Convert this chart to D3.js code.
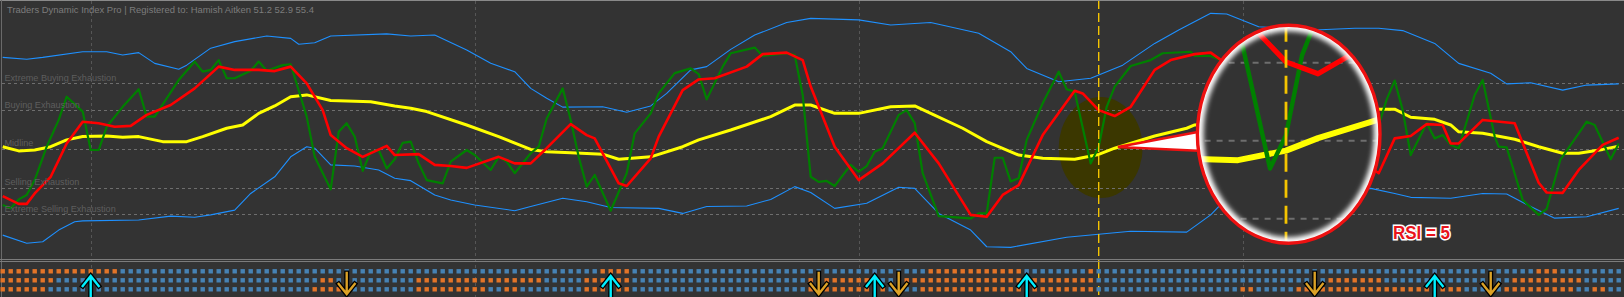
<!DOCTYPE html>
<html lang="en">
<head>
<meta charset="UTF-8">
<title>Traders Dynamic Index Pro</title>
<script src="https://cdn.jsdelivr.net/npm/d3@7"></script>
<style>
  html, body { margin: 0; padding: 0; background: #333; }
  svg { display: block; }
  .level { stroke: #6e6e6e; stroke-width: 1px; stroke-dasharray: 3,3; }
  .vgrid { stroke: #565656; stroke-width: 1px; stroke-dasharray: 3,3; }
  .lbl { fill: #5e5e5e; font: 9.1px "Liberation Sans", Arial, sans-serif; }
  .title { fill: #7c7c7c; font: 9px "Liberation Sans", Arial, sans-serif; }
  .rsi { fill: #e8141b; stroke: #fff; stroke-width: 3px; paint-order: stroke;
         font: bold 18px "Liberation Sans", Arial, sans-serif; }
</style>
</head>
<body>
<svg id="chart" width="1624" height="297"></svg>
<script>

// ---- data (bar index, value) ----
var titleText = "Traders Dynamic Index Pro | Registered to: Hamish Aitken 51.2 52.9 55.4";
var levels = [72, 63, 50, 37, 28];
var levelNames = ["Extreme Buying Exhaustion", "Buying Exhaustion", "Midline", "Selling Exhaustion", "Extreme Selling Exhaustion"];
var gridBars = [11, 59, 107, 155];
var markerBar = 137;

var upperBand = [[0,80.7],[3,80.1],[5,80.7],[10,82.6],[13,82.6],[15,81.5],[17,82.3],[19,78.7],[22,76.7],[23,78.1],[26,83.8],[29,86],[33,87.9],[36,87.1],[37,85.1],[39,85.6],[41,87.9],[48,88.6],[51,87.9],[54,88.2],[58,83.2],[61,78.7],[64,75.9],[66,70.3],[68,67],[70,64],[75,64.1],[78,62.3],[81,64.4],[83,68.6],[86,76.5],[88,77.6],[91,83.4],[94,88.2],[98,92.4],[101,93.8],[107,93.3],[111,91.6],[116,92.4],[122,88.8],[126,82.6],[128,77],[132,72.5],[136,73.7],[140,78.1],[144,85.4],[147,89.9],[151,95.5],[153,95.3],[157,91],[164,89.9],[169,90.5],[172,90.5],[175,89.7],[179,85.4],[182,78.7],[186,75.4],[188,71.8],[191,72.2],[195,69.7],[198,71.4],[202,71.8]];

var lowerBand = [[0,21],[3,18.3],[5,18.8],[7,22.7],[9,25.5],[10,25.8],[17,26.1],[21,27.4],[24,27],[26,27.8],[29,29.4],[31,35],[34,40.6],[36,47.3],[38,50.7],[39,50.2],[41,44.6],[44,44.2],[47,42.9],[49,40.1],[51,39.3],[54,34.5],[56,32.8],[59,31.1],[64,29.2],[66,30.6],[70,33.4],[73,32.2],[76,30.3],[82,30],[85,28.3],[88,30.6],[93,30.8],[96,33],[99,37.3],[101,35.3],[104,30],[108,31.7],[112,37.1],[114,36.7],[117,28.3],[121,22.7],[123,17.1],[126,16.9],[133,20.3],[141,22.3],[148,22],[151,27.8],[152,30.6],[171,36.7],[174,35],[176,33.7],[181,33.4],[185,35],[188,34.8],[191,30.6],[194,26.7],[198,27.2],[202,30]];

var marketBase = [[0,50.7],[2,49.3],[4,49.6],[6,50.7],[8,53],[10,54.1],[13,54.3],[15,53.9],[17,54.1],[20,52.4],[23,52.4],[25,54.1],[28,56.9],[30,58],[32,61.9],[34,64.4],[36,67.5],[38,68.1],[41,66.2],[46,65.8],[49,64.4],[51,63.6],[53,62.5],[58,58],[62,54.1],[66,49.8],[68,49],[71,48.7],[75,48.2],[77,46.5],[81,47.3],[85,50.7],[87,53],[91,56.3],[96,60.8],[99,64.7],[101,64.7],[104,61.9],[107,61.9],[111,64.1],[114,64.4],[116,61.9],[120,56.9],[123,52.4],[127,47.9],[130,46.8],[134,46.5],[137,48.1],[139,50.2],[144,54.3],[148,56.9],[149,58],[172,63.3],[174,63.3],[176,60.6],[179,59.9],[181,58],[182,55.7],[185,55.2],[189,53.2],[192,50.7],[195,48.5],[197,48.5],[200,49.8],[202,50.9]];

var tradeSignal = [[0,34.1],[2,31.5],[3,31.5],[4,35],[6,40.6],[8,51.8],[10,59.1],[12,58.6],[14,57.4],[16,57.7],[18,61.4],[21,64.7],[24,70.3],[27,77.6],[29,76.5],[32,76.5],[34,76.1],[36,77.6],[38,72],[40,63],[41,54.6],[43,50.2],[45,47.3],[48,51],[49,47.9],[52,48.2],[54,44.6],[56,44.2],[58,43.6],[62,47.3],[64,45.1],[66,45.1],[68,50.2],[71,58.3],[73,54.6],[74,53.5],[77,38.4],[78,37.5],[81,46.8],[82,54.1],[85,69.7],[87,73.3],[89,73.7],[93,77.6],[95,81.8],[98,82.3],[100,79.8],[101,70.9],[104,50.7],[107,39.5],[110,45.1],[114,55.4],[117,45.1],[121,27.8],[123,27.2],[125,34.5],[127,37.8],[130,54.6],[134,69.5],[135,68.6],[137,63],[139,61],[141,64.1],[144,76.5],[146,79.8],[149,81.8],[151,82.3],[172,41.8],[174,53.5],[176,54.3],[178,58.3],[180,58],[181,51.8],[182,51.8],[185,59.7],[189,58.6],[192,38.6],[193,35.3],[195,35.2],[197,42.9],[200,51.3],[202,53.7]];

var rsiPrice = [[0,31.1],[1,30],[2,33],[3,34.5],[4,39.5],[5.5,50.7],[7,59.7],[8,67.5],[10,62.5],[11,49.6],[12,49.6],[13,57.4],[15,64.1],[17,70],[18,60.8],[19,60.8],[22,73.1],[24,79.3],[25,75.9],[26,76.5],[27,79.8],[28,73.7],[29,73.7],[31,76.2],[32,79.3],[33,76.2],[35,78.1],[36,78.4],[38,60.8],[39,47.3],[41,36.4],[42,55.7],[43,58.6],[44,54.1],[45,42.6],[46,49],[47,49.6],[48,43.4],[49,46.5],[50,52],[51,52.4],[52,45.1],[53,39.5],[55,38.4],[56,45.7],[58,49.6],[59,47.9],[61,42.9],[62,47.3],[63,45.7],[64,41.8],[66,48.5],[67,50.7],[68,60.2],[70,70.3],[71,59.7],[72,47.3],[73,37.3],[74,41.2],[76,29.2],[78,41.8],[79,55.2],[81,61.9],[82,68.6],[84,75.4],[86,77],[87,75.1],[88,66.6],[90,77.6],[91,82.1],[94,84],[95,81.2],[98,82.1],[99,81.5],[100,68.1],[101,40.6],[102,38.9],[103,39.2],[104,37.5],[106,44.6],[107,42.3],[108,44.2],[109,49],[110,50.2],[112,61.4],[113,63],[114,58.6],[115,41.8],[117,27.4],[121,26.6],[122,28.3],[123,28.3],[124,47],[125,47],[126,39],[127,40.1],[128,53],[130,65.3],[132,75.9],[133,70],[134,69.2],[136,45.1],[137,50.7],[138,64.1],[139,70.9],[141,77.8],[143.5,79.8],[145,82.1],[148.5,82.6],[149,81.2],[151,81.2],[172,58],[173,66.6],[174,72.9],[175,63],[176,47.9],[178,58.6],[179,53.5],[180,54.6],[181,51.3],[182,50.2],[184,68.1],[185,73.1],[186.5,54.1],[187,50.7],[188,50.5],[190,32.8],[192,27.8],[193,29.8],[194.7,46.3],[197,55.2],[198,59.1],[199,58],[201,46.5],[202,51.8]];

// signal strip: orange runs [from, to] per row, the rest is blue
var row1Orange = [[0,14],[75,78],[116,127],[136,136],[192,194]];
var row2Orange = [[0,6],[40,41],[52,67],[73,78],[101,108],[113,136],[166,172],[189,197]];
var row3Orange = [[0,5],[39,42],[52,60],[63,64],[73,78],[101,110],[115,136],[155,156],[162,182],[188,196],[199,200]];
var upArrows = [11, 76, 109, 128, 179];
var downArrows = [43, 102, 112, 164, 186];
var barCount = 203;
var rsiNote = "RSI = 5";

// ---- layout ----
var svg = d3.select("#chart"),
    width = +svg.attr("width"),
    height = +svg.attr("height");

var x = d3.scaleLinear().domain([0, 202]).range([2.7, 1618.7]);
var y = d3.scaleLinear().domain([28, 72]).range([214.3, 83.3]);

var defs = svg.append("defs");

svg.append("rect").attr("width", width).attr("height", height).attr("fill", "#333333");

// highlight blob behind the lines
svg.append("ellipse")
    .attr("cx", x(markerBar) + 2).attr("cy", y(50.4))
    .attr("rx", 42).attr("ry", 50.5)
    .attr("fill", "#3b3700");

var plot = svg.append("g").attr("id", "plot");

plot.selectAll(".vgrid")
    .data(gridBars)
    .enter().append("line")
    .attr("class", "vgrid")
    .attr("x1", function(d) { return Math.round(x(d)) + 0.5; })
    .attr("x2", function(d) { return Math.round(x(d)) + 0.5; })
    .attr("y1", 1).attr("y2", height);

plot.selectAll(".level")
    .data(levels)
    .enter().append("line")
    .attr("class", "level")
    .attr("x1", 2).attr("x2", width)
    .attr("y1", function(d) { return Math.round(y(d)) + 0.5; })
    .attr("y2", function(d) { return Math.round(y(d)) + 0.5; });

var line = d3.line()
    .x(function(d) { return x(d[0]); })
    .y(function(d) { return y(d[1]); });

var series = [
    {data: upperBand, color: "#1e90ff", w: 1.1},
    {data: lowerBand, color: "#1e90ff", w: 1.1},
    {data: marketBase, color: "#ffff00", w: 3},
    {data: rsiPrice, color: "#008000", w: 2.2},
    {data: tradeSignal, color: "#ff0000", w: 2.6}
];

series.forEach(function(s) {
    plot.append("path")
        .attr("d", line(s.data))
        .attr("fill", "none")
        .attr("stroke", s.color)
        .attr("stroke-width", s.w)
        .attr("stroke-linejoin", "round");
});

plot.append("line")
    .attr("x1", x(markerBar)).attr("x2", x(markerBar))
    .attr("y1", 0).attr("y2", height)
    .attr("stroke", "#f5c400")
    .attr("stroke-width", 1.4)
    .attr("stroke-dasharray", "9,4");

// texts
svg.append("text")
    .attr("class", "title")
    .attr("x", 7).attr("y", 13)
    .attr("textLength", 307)
    .attr("lengthAdjust", "spacingAndGlyphs")
    .text(titleText);

svg.selectAll(".lbl")
    .data(levels)
    .enter().append("text")
    .attr("class", "lbl")
    .attr("x", 4.5)
    .attr("y", function(d) { return y(d) - 2.4; })
    .text(function(d, i) { return levelNames[i]; });

// panel frame
svg.append("line").attr("x1", 0).attr("x2", width).attr("y1", 0.5).attr("y2", 0.5).attr("stroke", "#8a8a8a");
svg.append("line").attr("x1", 1.5).attr("x2", 1.5).attr("y1", 0).attr("y2", height).attr("stroke", "#6a6a6a");
svg.append("line").attr("x1", 0).attr("x2", width).attr("y1", 259.5).attr("y2", 259.5).attr("stroke", "#7c7c7c");
svg.append("line").attr("x1", 0).attr("x2", width).attr("y1", 261.5).attr("y2", 261.5).attr("stroke", "#7c7c7c");

// signal strip
var rowY = [271.3, 280.3, 289.3];
[row1Orange, row2Orange, row3Orange].forEach(function(runs, r) {
    var cells = d3.range(barCount).map(function(i) {
        var hot = runs.some(function(run) { return i >= run[0] && i <= run[1]; });
        return {i: i, hot: hot};
    });
    svg.append("g").selectAll("rect")
        .data(cells)
        .enter().append("rect")
        .attr("x", function(d) { return x(d.i) - 2.2; })
        .attr("y", rowY[r] - 2.2)
        .attr("width", 4.4).attr("height", 4.4)
        .attr("fill", function(d) { return d.hot ? "#e27428" : "#4682b4"; });
});

function drawArrow(bar, up) {
    var cx = x(bar);
    var head = up ? "M" + (cx - 8) + ",286 L" + cx + ",276 L" + (cx + 8) + ",286"
                  : "M" + (cx - 8) + ",284 L" + cx + ",294 L" + (cx + 8) + ",284";
    var shaft = up ? "M" + cx + ",277 V296" : "M" + cx + ",273 V293";
    var g = svg.append("g").attr("fill", "none").attr("stroke-linecap", "square");
    g.append("path").attr("d", shaft + " " + head).attr("stroke", "#000").attr("stroke-width", 5);
    g.append("path").attr("d", shaft + " " + head).attr("stroke", up ? "#00f0ff" : "#dca226").attr("stroke-width", 2.4);
}
upArrows.forEach(function(b) { drawArrow(b, true); });
downArrows.forEach(function(b) { drawArrow(b, false); });

// magnifier
var lensCx = 1288.7, lensCy = 134.2, lensRx = 91.3, lensRy = 109;
defs.append("clipPath").attr("id", "lensClip")
    .append("ellipse").attr("cx", lensCx).attr("cy", lensCy).attr("rx", lensRx).attr("ry", lensRy);
defs.append("filter").attr("id", "soft").attr("x", "-20%").attr("y", "-20%").attr("width", "140%").attr("height", "140%")
    .append("feGaussianBlur").attr("stdDeviation", 2.6);

var tipX = x(139.4), tipY = y(50.6);
svg.append("path")
    .attr("d", "M" + tipX + "," + tipY + " L1203,131 L1203,151 Z")
    .attr("fill", "#fff")
    .attr("stroke", "#ee1111")
    .attr("stroke-width", 2.4)
    .attr("stroke-linejoin", "miter");

var lens = svg.append("g").attr("clip-path", "url(#lensClip)");
lens.append("rect").attr("x", lensCx - lensRx).attr("y", lensCy - lensRy)
    .attr("width", lensRx * 2).attr("height", lensRy * 2).attr("fill", "#333333");
lens.append("use")
    .attr("href", "#plot")
    .attr("transform", "translate(" + (1286 - 2 * x(markerBar)) + "," + (139.3 - 2 * y(50)) + ") scale(2)");
lens.append("ellipse")
    .attr("cx", lensCx).attr("cy", lensCy).attr("rx", lensRx).attr("ry", lensRy)
    .attr("fill", "none").attr("stroke", "#ffffff").attr("stroke-width", 12)
    .attr("filter", "url(#soft)");
lens.append("ellipse")
    .attr("cx", lensCx).attr("cy", lensCy).attr("rx", lensRx).attr("ry", lensRy)
    .attr("fill", "none").attr("stroke", "#ffffff").attr("stroke-width", 4);

svg.append("ellipse")
    .attr("cx", lensCx).attr("cy", lensCy).attr("rx", lensRx).attr("ry", lensRy)
    .attr("fill", "none").attr("stroke", "#ee1111").attr("stroke-width", 3.4);

svg.append("text")
    .attr("class", "rsi")
    .attr("x", 1393).attr("y", 238.5)
    .attr("textLength", 57)
    .attr("lengthAdjust", "spacingAndGlyphs")
    .text(rsiNote);

</script>
</body>
</html>
